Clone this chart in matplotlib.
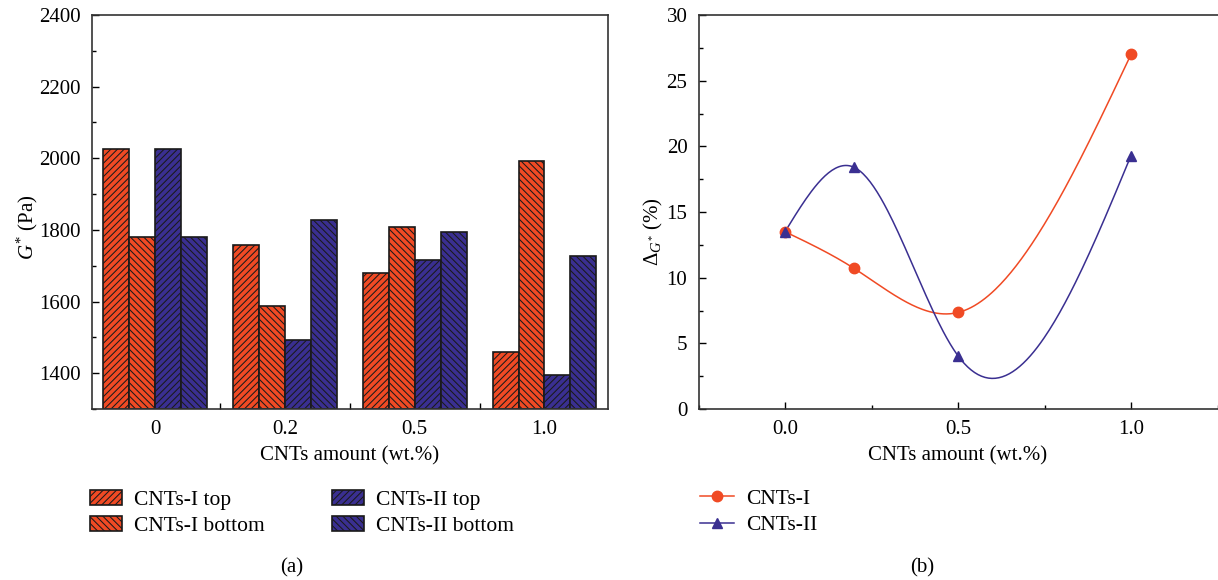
import numpy as np
import matplotlib
matplotlib.use('Agg')
import matplotlib.pyplot as plt
from matplotlib.ticker import MultipleLocator, FixedLocator

plt.rcParams['font.family'] = ['Liberation Serif', 'DejaVu Serif']
plt.rcParams['mathtext.fontset'] = 'custom'
plt.rcParams['mathtext.rm'] = 'Liberation Serif'
plt.rcParams['mathtext.it'] = 'Liberation Serif:italic'
plt.rcParams['hatch.linewidth'] = 0.75

# (a) G* of each sample, Pa
groups = ['0', '0.2', '0.5', '1.0']
cnt1_top = [2026, 1757, 1681, 1458]
cnt1_bottom = [1781, 1589, 1808, 1992]
cnt2_top = [2026, 1493, 1715, 1396]
cnt2_bottom = [1781, 1828, 1793, 1728]

# (b) relative difference, %
amount = [0.0, 0.2, 0.5, 1.0]
delta_cnt1 = [13.5, 10.7, 7.35, 27.0]
delta_cnt2 = [13.5, 18.4, 4.05, 19.3]

red = '#f04a24'
blue = '#3a2f91'
fs = 15


def natural_spline(x, y, n=200):
    x = np.asarray(x, float)
    y = np.asarray(y, float)
    k = len(x)
    h = np.diff(x)
    A = np.zeros((k, k))
    r = np.zeros(k)
    A[0, 0] = A[-1, -1] = 1
    for i in range(1, k - 1):
        A[i, i - 1] = h[i - 1]
        A[i, i] = 2 * (h[i - 1] + h[i])
        A[i, i + 1] = h[i]
        r[i] = 6 * ((y[i + 1] - y[i]) / h[i] - (y[i] - y[i - 1]) / h[i - 1])
    m = np.linalg.solve(A, r)
    xs = np.linspace(x[0], x[-1], n)
    idx = np.clip(np.searchsorted(x, xs) - 1, 0, k - 2)
    x0, x1 = x[idx], x[idx + 1]
    hh = x1 - x0
    a = (x1 - xs) / hh
    b = (xs - x0) / hh
    ys = a * y[idx] + b * y[idx + 1] + ((a**3 - a) * m[idx] + (b**3 - b) * m[idx + 1]) * hh**2 / 6
    return xs, ys


fig = plt.figure(figsize=(12.18, 5.8), dpi=100)
ax1 = fig.add_axes([0.0753, 0.2948, 0.4239, 0.6793])
ax2 = fig.add_axes([0.5735, 0.2948, 0.4261, 0.6793])

# ---- (a) bars
x = np.arange(len(groups))
w = 0.2
series = [(cnt1_top, red, '/////', 'CNTs-I top'),
          (cnt1_bottom, red, '\\\\\\\\\\', 'CNTs-I bottom'),
          (cnt2_top, blue, '/////', 'CNTs-II top'),
          (cnt2_bottom, blue, '\\\\\\\\\\', 'CNTs-II bottom')]
handles = []
for i, (vals, col, hat, lab) in enumerate(series):
    b = ax1.bar(x + (i - 1.5) * w, np.array(vals) - 1300, w, bottom=1300,
                color=col, edgecolor='#1a1a1a', linewidth=1.2, hatch=hat,
                label=lab, zorder=2)
    handles.append(b)

ax1.set_xlim(-0.49, 3.49)
ax1.set_ylim(1300, 2400)
ax1.set_xticks(x)
ax1.set_xticklabels(groups)
ax1.xaxis.set_minor_locator(FixedLocator([0.5, 1.5, 2.5]))
ax1.set_yticks([1400, 1600, 1800, 2000, 2200, 2400])
ax1.yaxis.set_minor_locator(MultipleLocator(100))
ax1.tick_params(axis='x', which='major', length=0, pad=8, labelsize=fs)
ax1.tick_params(axis='x', which='minor', direction='in', length=4, width=1)
ax1.tick_params(axis='y', which='major', direction='in', length=5, width=1,
                labelsize=fs, pad=8)
ax1.tick_params(axis='y', which='minor', direction='in', length=3, width=1)
ax1.set_xlabel('CNTs amount (wt.%)', fontsize=fs, labelpad=5)
ax1.set_ylabel(r'$G^{*}$ (Pa)', fontsize=fs)
ax1.yaxis.set_label_coords(-0.100, 0.46)

# ---- (b) smoothed curves
for yv, col, mk, lab in [(delta_cnt1, red, 'o', 'CNTs-I'), (delta_cnt2, blue, '^', 'CNTs-II')]:
    xs, ys = natural_spline(amount, yv)
    ax2.plot(xs, ys, color=col, lw=1.1, zorder=2)
    ax2.plot(amount, yv, ls='none', marker=mk, color=col, ms=7.5, zorder=3)
    handles.append(ax2.plot([], [], color=col, lw=1.1, marker=mk, ms=7.5, label=lab)[0])

ax2.set_xlim(-0.25, 1.25)
ax2.set_ylim(0, 30)
ax2.set_xticks([0.0, 0.5, 1.0])
ax2.set_xticklabels(['0.0', '0.5', '1.0'])
ax2.xaxis.set_minor_locator(MultipleLocator(0.25))
ax2.yaxis.set_major_locator(MultipleLocator(5))
ax2.yaxis.set_minor_locator(MultipleLocator(2.5))
ax2.tick_params(which='major', direction='in', length=5, width=1, labelsize=fs, pad=8)
ax2.tick_params(which='minor', direction='in', length=3, width=1)
ax2.spines['right'].set_visible(False)
ax2.set_xlabel('CNTs amount (wt.%)', fontsize=fs, labelpad=5)
ax2.set_ylabel(r'$\Delta_{G^{*}}$ (%)', fontsize=fs)
ax2.yaxis.set_label_coords(-0.065, 0.45)

for ax in (ax1, ax2):
    for s in ax.spines.values():
        s.set_linewidth(1.2)
        s.set_color('#333333')

fig.legend(handles=handles[:4], loc='upper left', bbox_to_anchor=(0.058, 0.188),
           ncol=2, frameon=False, fontsize=15.5, handlelength=1.5, handleheight=0.7,
           columnspacing=3.1, labelspacing=0.25, handletextpad=0.55)
fig.legend(handles=handles[4:], loc='upper left', bbox_to_anchor=(0.559, 0.191),
           frameon=False, fontsize=15.5, handlelength=1.55, labelspacing=0.3,
           handletextpad=0.6)

fig.text(0.2397, 0.021, '(a)', fontsize=fs, ha='center', va='center')
fig.text(0.757, 0.021, '(b)', fontsize=fs, ha='center', va='center')

fig.savefig('out.png', dpi=100)
